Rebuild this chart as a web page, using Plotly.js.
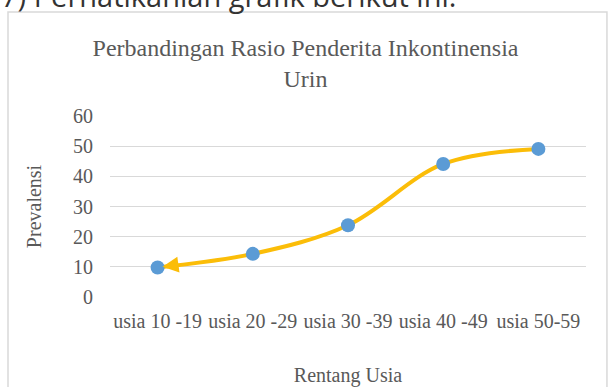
<!DOCTYPE html>
<html>
<head>
<meta charset="utf-8">
<script src="https://cdn.plot.ly/plotly-3.0.1.min.js"></script>
<style>
html,body{margin:0;padding:0;background:#fff;}
#chart{width:611px;height:387px;}
</style>
</head>
<body>
<div id="chart"></div>
<script>
const categories = ["usia 10 -19", "usia 20 -29", "usia 30 -39", "usia 40 -49", "usia 50-59"];
const prevalensi = [9.8, 14.3, 23.8, 44.1, 49.1];
const yTicks = [0, 10, 20, 30, 40, 50, 60];

const serif = "Liberation Serif, Times New Roman, serif";
const textColor = "#595959";

const trace = {
  type: "scatter",
  mode: "lines+markers",
  x: categories,
  y: prevalensi,
  line: {color: "#FBBD08", width: 4, shape: "spline", smoothing: 1},
  marker: {color: "#5B9BD5", size: 14},
  hoverinfo: "skip"
};

const layout = {
  width: 611,
  height: 387,
  margin: {l: 110, r: 25, t: 116, b: 90},
  paper_bgcolor: "#fff",
  plot_bgcolor: "#fff",
  showlegend: false,
  title: {
    text: "Perbandingan Rasio Penderita Inkontinensia<br>Urin",
    font: {family: serif, size: 24, color: textColor},
    x: 0.5, xanchor: "center",
    y: 0.856, yanchor: "middle"
  },
  xaxis: {
    type: "category",
    range: [-0.5, categories.length - 0.5],
    automargin: false,
    showgrid: false,
    zeroline: false,
    showline: false,
    ticks: "",
    ticklabelstandoff: 10,
    tickfont: {family: serif, size: 20, color: textColor},
    title: {text: "Rentang Usia", font: {family: serif, size: 20, color: textColor}, standoff: 37}
  },
  yaxis: {
    range: [0, 60],
    automargin: false,
    tickvals: yTicks,
    ticktext: yTicks.map(String),
    showgrid: true,
    gridcolor: "#d9d9d9",
    gridwidth: 1,
    zeroline: false,
    showline: false,
    ticks: "",
    ticklabelstandoff: 16,
    tickfont: {family: serif, size: 20, color: textColor},
    title: {text: "Prevalensi", font: {family: serif, size: 20, color: textColor}, standoff: 26}
  },
  shapes: [{
    type: "rect", xref: "paper", yref: "paper",
    x0: -0.2143, x1: 1.044, y0: -0.6, y1: 1.5746,
    line: {color: "#d9d9d9", width: 1.5}, fillcolor: "rgba(0,0,0,0)", layer: "below"
  }],
  annotations: [
    {
      text: "7) Perhatikanlah grafik berikut ini.",
      xref: "paper", yref: "paper",
      x: -0.234, xanchor: "left",
      y: 1.668, yanchor: "middle",
      showarrow: false,
      font: {family: "Open Sans, Noto Sans, sans-serif", size: 29, color: "#333333"}
    },
    {
      text: "",
      x: categories[0], y: prevalensi[0],
      xref: "x", yref: "y",
      showarrow: true,
      ax: 22, ay: -3,
      standoff: 5,
      arrowcolor: "#FBBD08",
      arrowwidth: 4,
      arrowhead: 2,
      arrowsize: 0.8
    }
  ]
};

Plotly.newPlot("chart", [trace], layout, {displayModeBar: false, staticPlot: true});
</script>
</body>
</html>
